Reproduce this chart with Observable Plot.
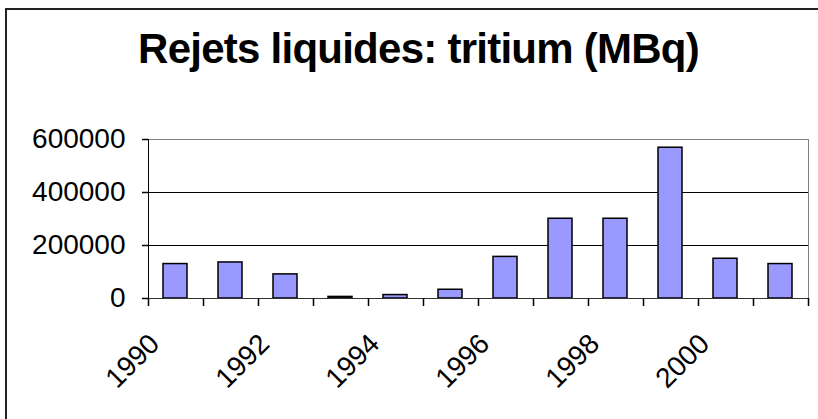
<!DOCTYPE html>
<html><head><meta charset="utf-8">
<script src="https://cdn.jsdelivr.net/npm/d3@7"></script>
<script src="https://cdn.jsdelivr.net/npm/@observablehq/plot@0.6"></script>
<style>
body{margin:0;background:#fff;}
#wrap{position:relative;width:818px;height:419px;overflow:hidden;font-family:Arial,"Liberation Sans",sans-serif;background:#fff;}
#frame{position:absolute;left:5px;top:8px;width:900px;height:500px;border-left:2px solid #222;border-top:2px solid #222;}
#title{position:absolute;left:418.5px;top:28px;transform:translateX(-50%);font-size:42px;line-height:42px;font-weight:bold;letter-spacing:-0.75px;white-space:nowrap;color:#000;}
#chart{position:absolute;left:0;top:0;}
</style></head>
<body><div id="wrap"><div id="frame"></div><div id="title">Rejets liquides: tritium (MBq)</div><div id="chart"></div></div>
<script>
const years = [1990, 1991, 1992, 1993, 1994, 1995, 1996, 1997, 1998, 1999, 2000, 2001];
const values = [130000, 136000, 91000, 6000, 13000, 33000, 157000, 301000, 301000, 569000, 150000, 130000];
const yTicks = [0, 200000, 400000, 600000];
const gridValues = [200000, 400000];
const xLabels = [1990, 1992, 1994, 1996, 1998, 2000];
const xTickValues = d3.range(1990, 2003);
const data = years.map((year, i) => ({year, value: values[i]}));

const chart = Plot.plot({
  width: 818, height: 419,
  marginLeft: 148, marginRight: 10, marginTop: 139, marginBottom: 121,
  style: {fontFamily: "Arial, 'Liberation Sans', sans-serif", fontSize: "28px", color: "#000", background: "transparent", overflow: "visible"},
  x: {domain: [1990, 2002], axis: null},
  y: {domain: [0, 600000], ticks: yTicks, tickFormat: d => String(d), tickSize: 0, tickPadding: 23, label: null},
  marks: [
    Plot.frame({stroke: "#808080"}),
    Plot.ruleY(gridValues, {stroke: "#000"}),
    Plot.rectY(data, {x1: d => d.year, x2: d => d.year + 1, y: "value", fill: "#9999FF", stroke: "#000", strokeWidth: 1.5, insetLeft: 15, insetRight: 16}),
    Plot.ruleY([0], {stroke: "#333"}),
    Plot.ruleX([1990], {stroke: "#000"}),
    Plot.ruleX(xTickValues, {y1: 0, y2: 0, insetBottom: -8, stroke: "#000", strokeWidth: 1.5}),
    Plot.ruleY(yTicks, {x1: 1990, x2: 1990, insetLeft: -6, stroke: "#000", strokeWidth: 1.5}),
    Plot.text(xLabels, {x: d => d + 0.5, text: d => String(d), frameAnchor: "bottom", dy: 47, dx: -15, rotate: -45, textAnchor: "end", fontSize: 28, fill: "#000"})
  ]
});
document.getElementById("chart").appendChild(chart);
</script>
</body></html>
